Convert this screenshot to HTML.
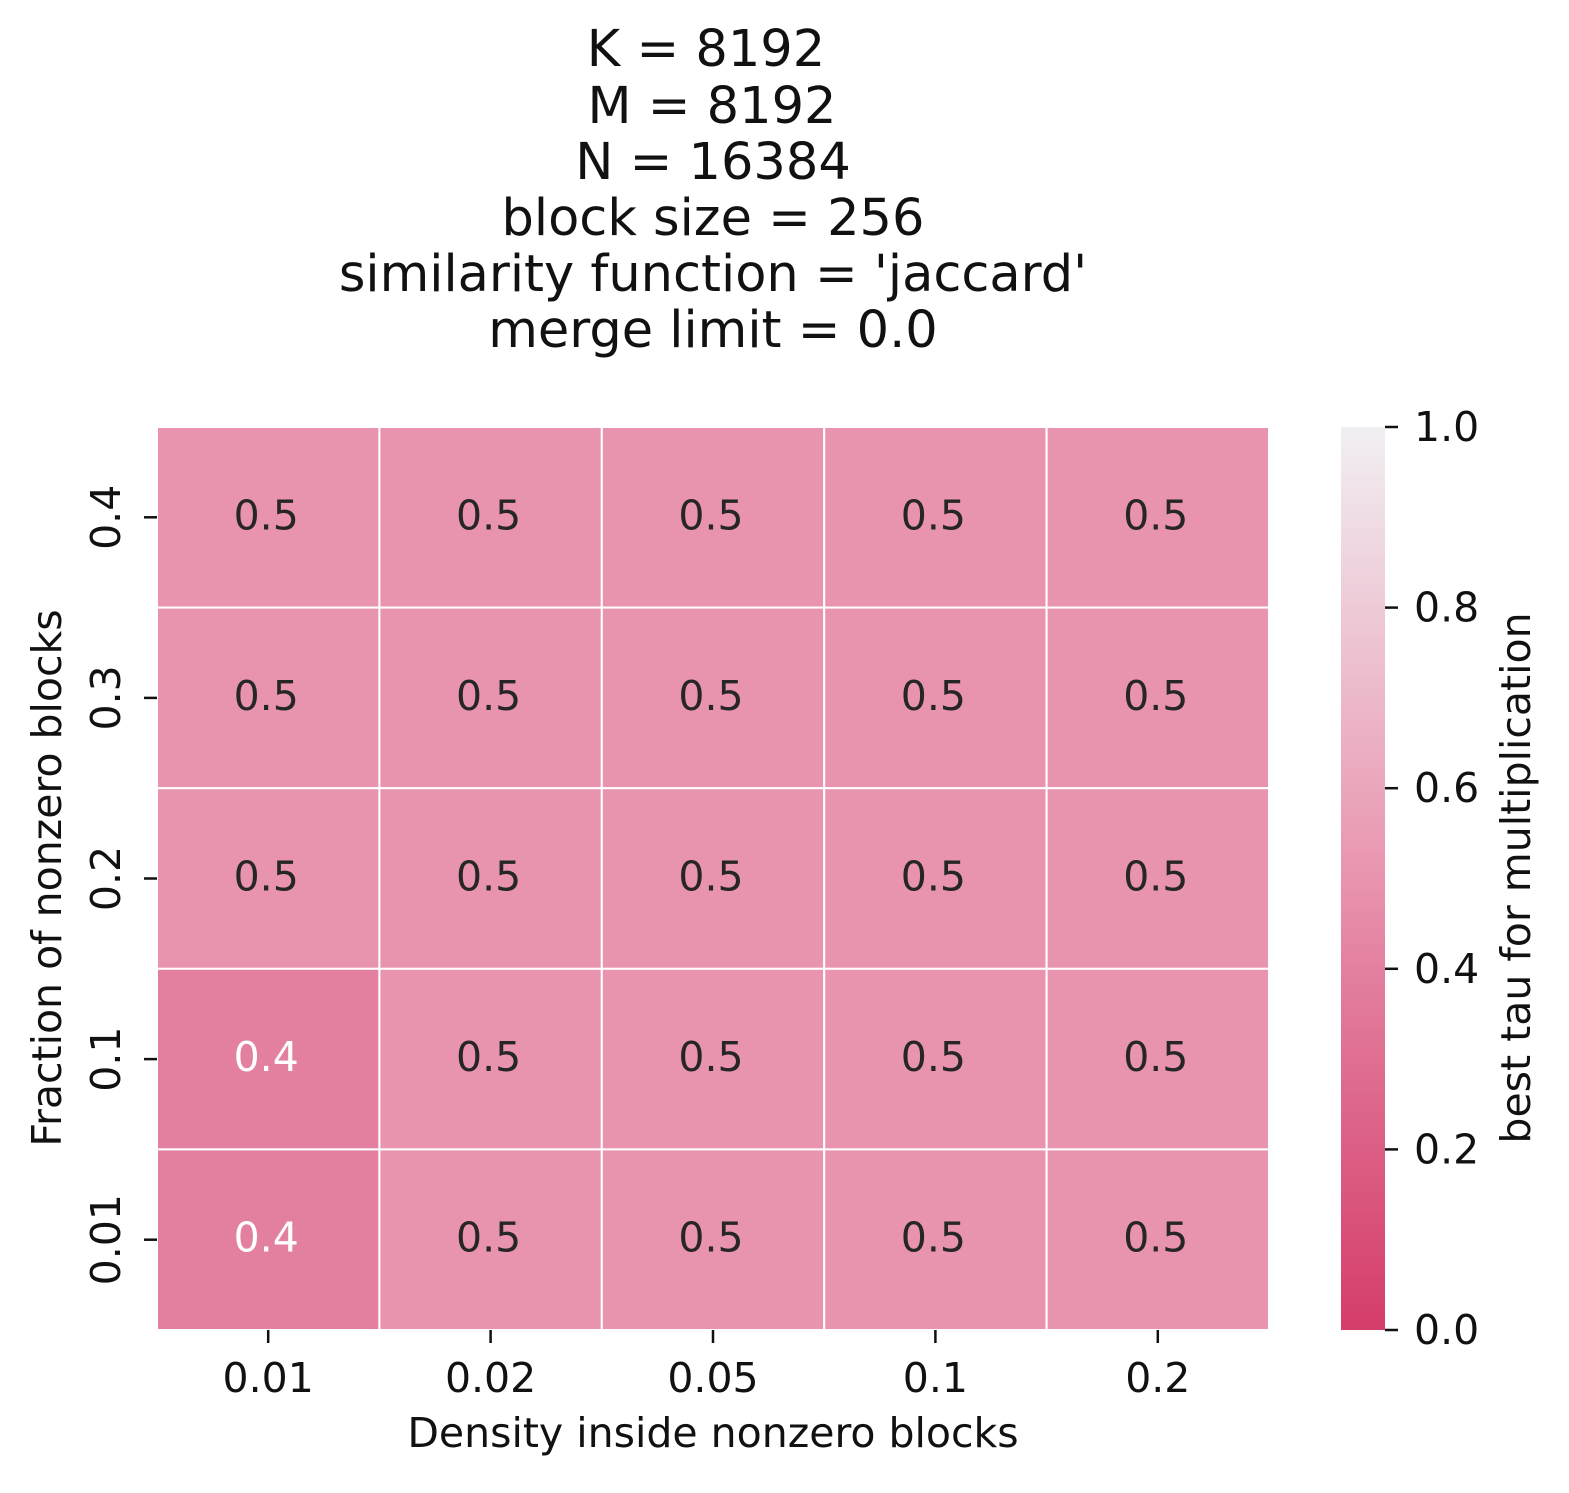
<!DOCTYPE html>
<html><head><meta charset="utf-8"><style>
body{margin:0;background:#fff;}
svg text{font-family:"DejaVu Sans","Liberation Sans",sans-serif;}
</style></head><body>
<svg id="chart" width="1569" height="1488" xmlns="http://www.w3.org/2000/svg">
<defs><linearGradient id="cbg" x1="0" y1="1" x2="0" y2="0">
<stop offset="0" stop-color="#d53d6a"/><stop offset="0.4" stop-color="#e3809f"/><stop offset="0.5" stop-color="#e994ae"/><stop offset="1" stop-color="#f1eff3"/>
</linearGradient></defs>
<g font-size="51" text-anchor="middle" fill="#111">
<text x="706" y="66">K = 8192</text>
<text x="712" y="123">M = 8192</text>
<text x="713" y="179">N = 16384</text>
<text x="713" y="235">block size = 256</text>
<text x="713" y="291">similarity function = 'jaccard'</text>
<text x="713" y="347">merge limit = 0.0</text>
</g>
<g id="cells"></g>
<g id="axes"></g>
<rect x="1341" y="427" width="44" height="903" fill="url(#cbg)"/>
<text transform="translate(1530,878) rotate(-90)" font-size="41" text-anchor="middle" fill="#111">best tau for multiplication</text>
<text x="713" y="1447" font-size="41" text-anchor="middle" fill="#111">Density inside nonzero blocks</text>
<text transform="translate(61,878) rotate(-90)" font-size="41" text-anchor="middle" fill="#111">Fraction of nonzero blocks</text>
</svg>
<script>
const xCats=["0.01","0.02","0.05","0.1","0.2"];
const yCats=["0.4","0.3","0.2","0.1","0.01"];
const row04=[0.5,0.5,0.5,0.5,0.5];
const row03=[0.5,0.5,0.5,0.5,0.5];
const row02=[0.5,0.5,0.5,0.5,0.5];
const row01=[0.4,0.5,0.5,0.5,0.5];
const row001=[0.4,0.5,0.5,0.5,0.5];
const cbTicks=["0.0","0.2","0.4","0.6","0.8","1.0"];
const rows=[row04,row03,row02,row01,row001];
const NS="http://www.w3.org/2000/svg";
const X0=157,X1=1269,Y0=427,Y1=1330;
const cw=(X1-X0)/xCats.length, ch=(Y1-Y0)/yCats.length;
const xs=i=>X0+i*cw, ys=j=>Y0+j*ch, cbY=v=>Y1-v*(Y1-Y0);
const stops=[[0,[213,61,106]],[0.4,[227,128,159]],[0.5,[233,148,174]],[1,[241,239,243]]];
function color(v){for(let k=1;k<stops.length;k++){if(v<=stops[k][0]){const a=stops[k-1],b=stops[k],t=(v-a[0])/(b[0]-a[0]);return "rgb("+a[1].map((c,i)=>Math.round(c+(b[1][i]-c)*t)).join(",")+")";}}return "rgb(241,239,243)";}
function mk(tag,attrs,parent){const e=document.createElementNS(NS,tag);for(const k in attrs)e.setAttribute(k,attrs[k]);parent.appendChild(e);return e;}
const cells=document.getElementById('cells'),axes=document.getElementById('axes');
rows.forEach((r,j)=>r.forEach((v,i)=>{
 const rc=mk('rect',{x:xs(i),y:ys(j),width:cw,height:ch,fill:color(v),stroke:'#fff','stroke-width':2},cells);
 
 
 const t=mk('text',{x:xs(i)+cw/2-2,y:ys(j)+ch/2+12,'font-size':41,'text-anchor':'middle',fill:v<0.45?'#fff':'#262626'},cells);
 
 
 t.textContent=v.toFixed(1);
}));
xCats.forEach((c,i)=>{const cx=xs(i)+cw/2;
 const l=mk('line',{x1:cx,x2:cx,y1:Y1,y2:Y1+13,stroke:'#111','stroke-width':2.5},axes);
 
 
 const t=mk('text',{x:cx,y:Y1+62,'font-size':41,'text-anchor':'middle',fill:'#111'},axes);
 
 
 t.textContent=c;});
yCats.forEach((c,j)=>{const cy=ys(j)+ch/2;
 const l=mk('line',{x1:X0-13,x2:X0,y1:cy,y2:cy,stroke:'#111','stroke-width':2.5},axes);
 
 
 const t=mk('text',{transform:'translate(120,'+cy+') rotate(-90)','font-size':41,'text-anchor':'middle',fill:'#111'},axes);
 
 
 t.textContent=c;});
cbTicks.forEach(c=>{const y=cbY(parseFloat(c));
 const l=mk('line',{x1:1385,x2:1398,y1:y,y2:y,stroke:'#111','stroke-width':2.5},axes);
 
 
 const t=mk('text',{x:1414,y:y+14,'font-size':41,fill:'#111'},axes);
 
 
 t.textContent=c;});
</script>
</body></html>
